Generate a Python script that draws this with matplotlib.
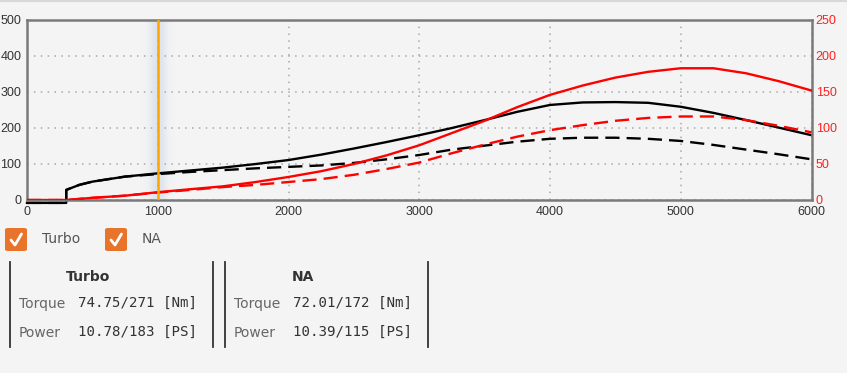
import matplotlib.pyplot as plt
import matplotlib.patches as patches
from matplotlib.lines import Line2D
import numpy as np

# Engine speed [rpm]; the torque curves step up at 300 rpm
torqueRpm = [0, 300, 300, 400, 500, 750, 1000, 1250, 1500, 1750, 2000, 2250, 2500, 2750, 3000,
             3250, 3500, 3750, 4000, 4250, 4500, 4750, 5000, 5250, 5500, 5750, 6000]
# Turbo torque [Nm] (left axis)
turboTorque = [-8, -8, 28, 42, 51, 65, 74, 82, 90, 100, 111, 126, 143, 161, 180,
               200, 222, 245, 264, 271, 272, 270, 259, 242, 222, 201, 180]
# NA torque [Nm] (left axis)
naTorque = [-8, -8, 28, 42, 51, 65, 72, 78, 83, 88, 92, 96, 103, 113, 125,
            140, 151, 162, 170, 173, 173, 170, 164, 153, 140, 127, 113]

powerRpm = [0, 300, 500, 750, 1000, 1250, 1500, 1750, 2000, 2250, 2500, 2750, 3000,
            3250, 3500, 3750, 4000, 4250, 4500, 4750, 5000, 5250, 5500, 5750, 6000]
# Power [PS] (right axis)
turboPower = [0, 0, 3, 6, 10.8, 15, 19, 25, 32, 40, 50, 62, 76,
              93, 110, 129, 146, 159, 170, 178, 183, 183, 176, 165, 152]
naPower = [0, 0, 3, 6, 10.4, 14, 18, 21, 25, 29, 35, 43, 52,
           65, 77, 88, 97, 104, 110, 114, 116, 116, 111, 103, 94]

xTicks = [0, 1000, 2000, 3000, 4000, 5000, 6000]
leftTicks = [0, 100, 200, 300, 400, 500]
rightTicks = [0, 50, 100, 150, 200, 250]
cursorRpm = 1000

seriesNames = ['Turbo', 'NA']
torqueReadouts = ['74.75/271 [Nm]', '72.01/172 [Nm]']
powerReadouts = ['10.78/183 [PS]', '10.39/115 [PS]']

W, H = 847, 373
BG = '#f4f4f4'


def px(x, y):
    """Pixel position (from top-left) to figure fraction."""
    return x / W, 1 - y / H


def main():
    fig = plt.figure(figsize=(W / 100, H / 100), dpi=100, facecolor=BG)
    fig.add_artist(Line2D([0, 1], [1 - 1 / H, 1 - 1 / H], transform=fig.transFigure, color='#d8d8d8', lw=1.5))

    # Chart area
    left, top = px(27, 20)
    right, bottom = px(811.5, 200)
    ax = fig.add_axes([left, bottom, right - left, top - bottom])
    ax.set_facecolor(BG)
    ax.set_xticks(xTicks)
    ax.set_yticks(leftTicks)
    ax.grid(True, color='#a8a8a8', linestyle=(0, (1, 3.5)), linewidth=1.1)
    ax.set_axisbelow(True)
    for s in ax.spines.values():
        s.set_color('#7a7a7a')
        s.set_linewidth(1.8)
        s.set_zorder(6)
    ax.tick_params(length=0, pad=4, labelsize=9, colors='#333333')

    # Soft shadow around the cursor line
    xs = np.linspace(-1, 1, 200)
    img = np.zeros((1, 200, 4))
    img[..., 0] = 0.82
    img[..., 1] = 0.86
    img[..., 2] = 0.91
    img[0, :, 3] = np.exp(-(xs / 0.5) ** 2) * 0.7
    ax.imshow(img, extent=[cursorRpm - 130, cursorRpm + 130, 0, 500], aspect='auto', zorder=0.5,
              interpolation='bilinear')
    ax.set_xlim(0, 6000)
    ax.set_ylim(0, 500)

    ax.plot(torqueRpm, turboTorque, color='black', lw=1.7, clip_on=False, zorder=3)
    ax.plot(torqueRpm, naTorque, color='black', lw=1.7, dashes=(6, 3), clip_on=False, zorder=3)

    ax2 = ax.twinx()
    ax2.set_ylim(0, 250)
    ax2.set_yticks(rightTicks)
    ax2.tick_params(length=0, pad=3, labelsize=9, colors='#ff2020')
    for s in ax2.spines.values():
        s.set_visible(False)
    ax2.plot(powerRpm, turboPower, color='#ff0000', lw=1.7, zorder=3)
    ax2.plot(powerRpm, naPower, color='#ff0000', lw=1.7, dashes=(6, 3), zorder=3)
    ax2.axvline(cursorRpm, color='#ffa500', lw=1.8, zorder=5)

    for a in (ax, ax2):
        for lab in a.get_xticklabels() + a.get_yticklabels():
            lab.set_fontfamily('Liberation Sans')

    # Checkboxes
    for i, name in enumerate(seriesNames):
        bx = 5 + i * 100
        x0, y0 = px(bx, 251)
        box = patches.FancyBboxPatch((x0, y0), 22 / W, 23 / H, boxstyle='round,pad=0,rounding_size=0.004',
                                     transform=fig.transFigure, facecolor='#e8732a', edgecolor='none')
        fig.add_artist(box)
        cx = [bx + 6, bx + 10, bx + 16.5]
        cy = [240, 245, 234]
        fig.add_artist(Line2D([c / W for c in cx], [1 - c / H for c in cy], transform=fig.transFigure,
                              color='white', lw=2, solid_capstyle='round', solid_joinstyle='round'))
        fig.text(*px(bx + 37, 239), name, fontsize=10, color='#555555', family='DejaVu Sans', va='center')

    # Readout panels
    for i, name in enumerate(seriesNames):
        ox = 10 + i * 215
        for vx in (ox, ox + 203):
            fig.add_artist(Line2D([vx / W, vx / W], [1 - 262 / H, 1 - 347 / H], transform=fig.transFigure,
                                  color='#333333', lw=1.3))
        fig.text(*px(ox + 78, 277), name, fontsize=10, fontweight='bold', color='#333333',
                 family='DejaVu Sans', ha='center', va='center')
        fig.text(*px(ox + 9, 304), 'Torque', fontsize=10, color='#666666', family='DejaVu Sans', va='center')
        fig.text(*px(ox + 68, 303), torqueReadouts[i], fontsize=10.2, color='#333333', family='DejaVu Sans Mono',
                 va='center')
        fig.text(*px(ox + 9, 333), 'Power', fontsize=10, color='#666666', family='DejaVu Sans', va='center')
        fig.text(*px(ox + 68, 332), powerReadouts[i], fontsize=10.2, color='#333333', family='DejaVu Sans Mono',
                 va='center')

    fig.savefig('out.png', dpi=100, facecolor=BG)


if __name__ == '__main__':
    main()
